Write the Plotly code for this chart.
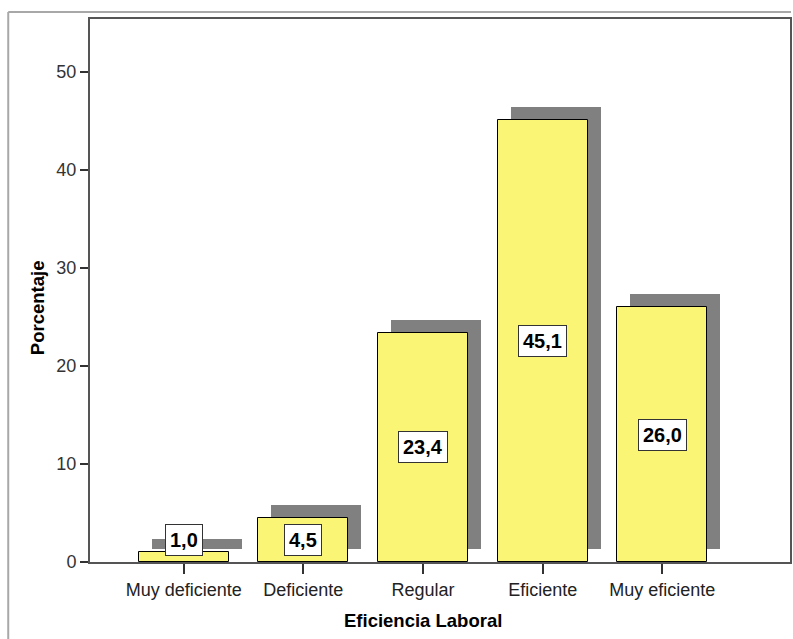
import plotly.graph_objects as go

# Distribución porcentual de la eficiencia laboral
categorias = ["Muy deficiente", "Deficiente", "Regular", "Eficiente", "Muy eficiente"]
porcentajes = [1.0, 4.5, 23.4, 45.1, 26.0]
ticks_y = [0, 10, 20, 30, 40, 50]

FONT = "Liberation Sans, Arial, sans-serif"
AMARILLO = "#FAF574"
SOMBRA = "#808080"

# Plot geometry (pixels) used to express the drop shadow in data units
L, R, T, B = 90, 1, 19, 77
W, H = 793, 639
ymax = 55.4
xmin, xmax = -0.783, 5.067
px_x = (W - L - R) / (xmax - xmin)
px_y = (H - T - B) / ymax
dx = 13 / px_x
dy = 13 / px_y

pos = list(range(len(categorias)))

fig = go.Figure()

# drop shadow behind each bar
fig.add_trace(go.Bar(
    x=[p + dx for p in pos], y=porcentajes, base=[dy] * len(pos),
    width=0.75, marker=dict(color=SOMBRA, line=dict(width=0)),
    hoverinfo="skip", showlegend=False,
))

# main bars
fig.add_trace(go.Bar(
    x=pos, y=porcentajes, width=0.75,
    marker=dict(color=AMARILLO, line=dict(color="#000000", width=1)),
    showlegend=False,
))

# value labels in white boxes
for p, v in zip(pos, porcentajes):
    fig.add_annotation(
        x=p, y=max(v / 2, 2.25), text=f"{v:.1f}".replace(".", ","),
        showarrow=False, xanchor="center", yanchor="middle",
        font=dict(family=FONT, size=20, color="#000000", weight="bold"),
        bgcolor="#FFFFFF", bordercolor="#333333", borderwidth=1, borderpad=4,
    )

# outer light frame
pw, ph = W - L - R, H - T - B
fx0 = (8 - L) / pw
fy_top = (H - B - 12) / ph
fy_bot = (H - B - H) / ph
fig.add_shape(type="line", xref="paper", yref="paper",
              x0=fx0, x1=(W - L) / pw, y0=fy_top, y1=fy_top,
              line=dict(color="#A8A8A8", width=2))
fig.add_shape(type="line", xref="paper", yref="paper",
              x0=fx0, x1=fx0, y0=fy_top, y1=fy_bot,
              line=dict(color="#A8A8A8", width=2))

# axis titles
fig.add_annotation(
    xref="paper", yref="paper", x=(424 - L) / pw, y=(H - B - 620) / ph,
    text="Eficiencia Laboral", showarrow=False, xanchor="center", yanchor="middle",
    font=dict(family=FONT, size=18.5, color="#000000", weight="bold"),
)
fig.add_annotation(
    xref="paper", yref="paper", x=(37 - L) / pw, y=(H - B - 308) / ph,
    text="Porcentaje", showarrow=False, textangle=-90, xanchor="center", yanchor="middle",
    font=dict(family=FONT, size=18.5, color="#000000", weight="bold"),
)

fig.update_layout(
    width=W, height=H,
    margin=dict(l=L, r=R, t=T, b=B),
    paper_bgcolor="#FFFFFF", plot_bgcolor="#FFFFFF",
    barmode="overlay", bargap=0,
    font=dict(family=FONT, color="#222222"),
)
fig.update_xaxes(
    range=[xmin, xmax], tickmode="array", tickvals=pos, ticktext=categorias,
    ticks="outside", ticklen=10, tickwidth=1.5, tickcolor="#333333",
    tickfont=dict(family=FONT, size=18, color="#222222"),
    showline=True, linecolor="#555555", linewidth=2, mirror=True,
    showgrid=False, zeroline=False, fixedrange=True,
)
fig.update_yaxes(
    range=[0, ymax], tickmode="array", tickvals=ticks_y,
    ticks="outside", ticklen=8, tickwidth=1.5, tickcolor="#333333",
    tickfont=dict(family=FONT, size=18, color="#333333"),
    showline=True, linecolor="#555555", linewidth=2, mirror=True,
    showgrid=False, zeroline=False, fixedrange=True,
)

fig.write_html("out.html", config={"displayModeBar": False})
